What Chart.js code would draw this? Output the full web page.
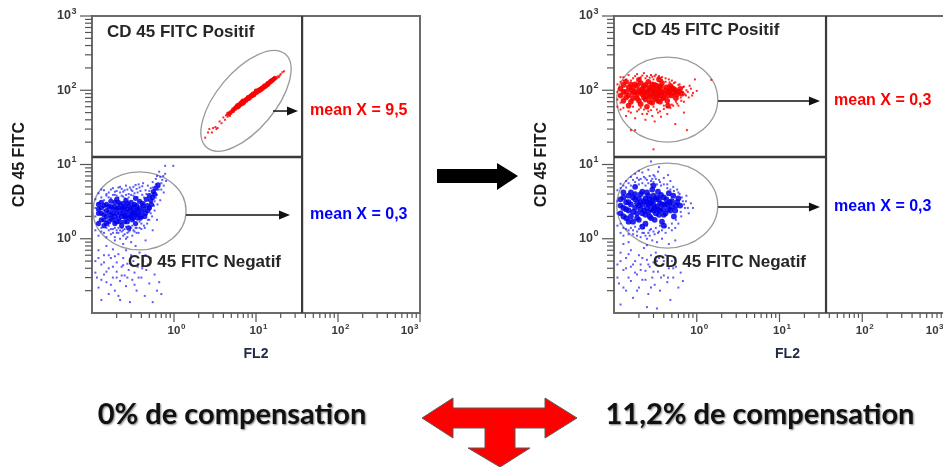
<!DOCTYPE html>
<html><head><meta charset="utf-8">
<script src="https://cdn.jsdelivr.net/npm/chart.js@4.4.1/dist/chart.umd.min.js"></script>
<style>
html,body{margin:0;padding:0;background:#fff;}
#wrap{position:relative;width:943px;height:467px;overflow:hidden;background:#fff;}
.pane{position:absolute;top:0;}
.caption{position:absolute;top:412px;transform:translate(-50%,-50%);font-family:Lato,"Open Sans",sans-serif;font-weight:700;font-size:29px;color:#111;text-shadow:1px 1px 2px rgba(0,0,0,.5);white-space:nowrap;}
svg{position:absolute;left:0;top:0;}
</style></head><body>
<div id="wrap">
<canvas id="c1" class="pane" width="430" height="370" style="left:0px"></canvas>
<canvas id="c2" class="pane" width="430" height="370" style="left:520px"></canvas>
<svg width="943" height="467">
  <polygon points="437,169 497,169 497,163 518,176 497,190 497,183 437,183" fill="#000"/>
  <polygon points="422,418 453,398 453,408 545,408 545,398 577,418 545,438 545,428 515,428 515,448 530,448 500,467 468,448 485,448 485,428 453,428 453,438" fill="#ff0000" stroke="#5a5a5a" stroke-width="1"/>
</svg>
<div class="caption" style="left:232px">0% de compensation</div>
<div class="caption" style="left:760px">11,2% de compensation</div>
</div>
<script>
// ---------------- data ----------------
const decadeTicks = [1, 10, 100, 1000];
const decadeExponents = ['0', '1', '2', '3'];
const minorBases = [0.1, 1, 10, 100];
const minorMultipliers = [2, 3, 4, 5, 6, 7, 8, 9];
const axisMin = 0.1, axisMax = 1000;
const gateFL2 = 36.5;   // vertical quadrant gate (FL2)
const gateFITC = 12.6;  // horizontal quadrant gate (CD 45 FITC)
const quadrantLabels = ['CD 45 FITC Positif', 'CD 45 FITC Negatif'];
const xTitle = 'FL2';
const yTitle = 'CD 45 FITC';
const meanLabelsBefore = ['mean X = 9,5', 'mean X = 0,3'];
const meanLabelsAfter = ['mean X = 0,3', 'mean X = 0,3'];

// 0% compensation: positive population (spill-over diagonal)
const posBeforeCore = [[5.5,56],[5.8,60],[6,59],[6.3,64],[6.6,65],[6.8,70],[7,67],[7.3,72],[7.6,73],[7.9,78],[8.2,77],[8.5,82],[8.8,83],[9.1,88],[9.4,86],[9.8,92],[10.2,93],[10.6,99],[11,98],[11.5,105],[12,105],[12.5,113],[13,112],[13.6,120],[14.2,122],[14.8,130],[15.4,131],[16,138],[5.2,53],[6.1,63],[7.1,71],[8,79],[9,86],[10,95],[11.2,102],[12.6,110],[13.8,118],
  [5.3,55],[5.6,58],[5.9,62],[6.2,61],[6.5,67],[6.7,66],[6.9,72],[7.2,70],[7.5,75],[7.8,76],[8.1,81],[8.4,79],[8.7,85],[9,84],[9.3,90],[9.6,89],[10,98],[10.4,95],[10.8,101],[11.3,103],[11.8,108],[12.3,109],[12.8,116],[13.4,116],[14,125],[14.6,126],[15.2,134],[15.8,135],[16.5,141],[17,146],[4.6,48],[4.9,50]];
const posBeforeScatter = [[2.4,23],[2.6,27],[2.9,27],[3.0,31],[3.2,32],[3.4,31],[3.6,38],[3.8,36],[4.0,43],[4.2,40],[4.3,46],[4.5,44],[4.7,49],[4.9,48],[5.1,54],[5.3,51],[17,141],[17.5,148],[18,145],[18.5,154],[19,150],[19.5,158],[20,165],[21,175],[22,180],[16.5,146],[15,128],[13.3,121],[11.8,99],[10.4,97],[9.6,84],[8.7,79],[7.8,80],[6.9,66],[5.9,57],[4.8,45],[3.3,30],[2.7,30]];
// 0% compensation: negative population
const negBeforeCore = [[0.12,2.2],[0.13,1.8],[0.13,2.6],[0.14,2.1],[0.15,1.6],[0.15,2.9],[0.16,2.3],[0.17,1.9],[0.17,2.7],[0.18,2.2],[0.19,1.6],[0.19,3.1],[0.2,2.5],[0.21,1.9],[0.22,2.2],[0.22,2.9],[0.23,1.5],[0.24,2.6],[0.25,2.0],[0.26,2.3],[0.27,1.7],[0.27,3.0],[0.29,2.1],[0.3,2.6],[0.31,1.8],[0.32,2.3],[0.33,2.9],[0.34,1.6],[0.35,2.1],[0.36,2.5],[0.38,3.2],[0.39,1.9],[0.4,2.3],[0.42,2.8],[0.44,2.0],[0.46,3.4],[0.48,2.4],[0.5,3.8],[0.53,2.9],[0.56,4.3],[0.14,1.5],[0.2,3.4],[0.28,1.4],[0.34,3.5],[0.12,2.9],
  [0.12,1.6],[0.12,2.5],[0.13,2.2],[0.13,3.1],[0.14,1.8],[0.14,2.8],[0.15,2.0],[0.15,2.4],[0.16,1.7],[0.16,2.7],[0.17,2.1],[0.17,3.2],[0.18,1.8],[0.18,2.5],[0.19,2.0],[0.19,2.7],[0.2,1.7],[0.2,2.2],[0.21,2.6],[0.21,3.1],[0.22,1.7],[0.23,2.0],[0.23,2.5],[0.24,2.2],[0.24,3.0],[0.25,1.7],[0.25,2.7],[0.26,2.0],[0.26,3.3],[0.27,2.5],[0.28,1.9],[0.28,2.8],[0.29,2.4],[0.3,2.0],[0.3,3.1],[0.31,2.2],[0.32,1.9],[0.32,2.7],[0.33,2.1],[0.34,2.4],[0.35,2.8],[0.36,1.9],[0.37,2.2],[0.38,2.6],[0.4,2.0],[0.41,3.0],[0.43,2.5],[0.45,2.2],[0.47,2.8],[0.5,2.6],[0.52,3.3],[0.55,3.6],[0.58,4.0],[0.6,4.8],[0.64,5.3]];
const negBeforeScatter = [[0.11,1.3],[0.11,3.4],[0.12,1.1],[0.12,4.1],[0.13,1.4],[0.13,3.6],[0.14,1.2],[0.14,4.5],[0.15,1.05],[0.15,3.8],[0.16,1.3],[0.16,4.2],[0.17,1.15],[0.17,3.5],[0.18,1.35],[0.18,4.8],[0.19,1.05],[0.19,3.9],[0.2,1.2],[0.2,4.4],[0.21,1.4],[0.21,3.6],[0.22,1.0],[0.22,5.0],[0.23,1.25],[0.23,3.8],[0.24,1.1],[0.24,4.3],[0.25,1.35],[0.25,3.5],[0.26,1.0],[0.26,5.2],[0.27,1.2],[0.28,4.0],[0.29,1.3],[0.3,4.6],[0.31,1.1],[0.32,3.8],[0.33,1.25],[0.34,5.3],[0.35,1.4],[0.36,4.2],[0.37,1.2],[0.38,4.9],[0.4,1.35],[0.41,3.9],[0.42,5.6],[0.43,1.5],[0.45,4.5],[0.47,1.6],[0.48,5.2],[0.5,1.8],[0.52,4.8],[0.54,2.0],[0.55,5.8],[0.58,2.4],[0.6,3.6],[0.6,6.4],[0.63,2.9],[0.65,4.6],[0.68,3.3],[0.7,5.6],[0.74,7.0],[0.75,4.2],[0.78,7.5],[0.8,6.0],[0.66,8.0],[0.78,9.6],[0.98,9.6],[0.45,0.95],[0.3,0.9],[0.55,1.3],[0.62,1.8],[0.14,2.4],[0.18,2.8],[0.27,2.2],[0.38,1.7],[0.44,3.1],[0.52,2.6],[0.58,3.2],
  [0.11,2.0],[0.11,2.6],[0.12,3.0],[0.12,1.7],[0.13,4.6],[0.13,1.25],[0.14,3.3],[0.15,4.0],[0.15,1.4],[0.16,3.6],[0.16,1.5],[0.17,4.6],[0.17,1.35],[0.18,3.9],[0.18,1.2],[0.19,4.3],[0.19,1.4],[0.2,3.8],[0.2,1.3],[0.21,4.9],[0.21,1.2],[0.22,4.2],[0.22,1.3],[0.23,4.7],[0.23,1.4],[0.24,3.7],[0.24,1.3],[0.25,4.5],[0.25,1.15],[0.26,3.9],[0.26,1.45],[0.27,4.6],[0.27,1.05],[0.28,3.6],[0.28,1.25],[0.29,4.9],[0.3,1.4],[0.3,3.9],[0.31,4.4],[0.31,1.5],[0.32,5.0],[0.32,1.3],[0.33,4.1],[0.34,1.4],[0.35,4.7],[0.35,1.2],[0.36,3.6],[0.37,5.4],[0.38,1.4],[0.39,4.4],[0.4,1.6],[0.41,5.1],[0.43,3.6],[0.44,1.4],[0.46,4.0],[0.48,1.8],[0.5,4.4],[0.52,2.2],[0.55,4.9],[0.57,2.8],[0.6,5.4],[0.62,3.9],[0.66,5.0],[0.7,4.6],[0.72,6.2],[0.68,6.8],[0.75,5.2],[0.62,7.0]];
const negBeforeTail = [[0.11,0.5],[0.115,0.3],[0.12,0.7],[0.12,0.22],[0.13,0.45],[0.13,0.15],[0.14,0.6],[0.14,0.33],[0.15,0.26],[0.15,0.8],[0.16,0.4],[0.16,0.18],[0.17,0.55],[0.18,0.3],[0.18,0.72],[0.19,0.2],[0.2,0.48],[0.2,0.36],[0.21,0.62],[0.22,0.27],[0.22,0.15],[0.23,0.42],[0.24,0.55],[0.25,0.32],[0.26,0.7],[0.26,0.23],[0.27,0.46],[0.28,0.38],[0.29,0.14],[0.3,0.6],[0.31,0.28],[0.32,0.5],[0.33,0.35],[0.35,0.2],[0.36,0.42],[0.38,0.65],[0.4,0.3],[0.42,0.5],[0.44,0.17],[0.46,0.38],[0.5,0.25],[0.52,0.55],[0.55,0.14],[0.58,0.33],[0.62,0.2],[0.66,0.26],[0.7,0.18],[0.24,0.85],[0.34,0.8],[0.19,0.95],
  [0.11,0.35],[0.12,0.55],[0.13,0.28],[0.14,0.48],[0.15,0.36],[0.16,0.6],[0.17,0.24],[0.18,0.42],[0.19,0.58],[0.2,0.3],[0.21,0.17],[0.23,0.32],[0.24,0.44],[0.27,0.3],[0.29,0.52],[0.33,0.24],[0.37,0.3],[0.41,0.4],[0.45,0.6],[0.48,0.45]];

// 11,2% compensation: positive population
const posAfterCore = [[0.13,95],[0.14,80],[0.15,110],[0.16,70],[0.17,92],[0.18,120],[0.19,78],[0.2,100],[0.21,65],[0.22,88],[0.23,112],[0.24,75],[0.25,95],[0.26,130],[0.27,82],[0.28,105],[0.29,68],[0.3,90],[0.31,118],[0.32,76],[0.33,98],[0.34,85],[0.35,110],[0.36,70],[0.37,92],[0.38,125],[0.4,80],[0.42,100],[0.44,72],[0.46,95],[0.48,115],[0.5,85],[0.53,104],[0.56,78],[0.6,95],[0.25,60],[0.35,140],[0.2,138],[0.45,62],[0.15,62],
  [0.12,85],[0.12,105],[0.13,72],[0.13,118],[0.14,95],[0.14,130],[0.15,85],[0.16,100],[0.16,120],[0.17,78],[0.17,108],[0.18,95],[0.19,88],[0.19,115],[0.2,72],[0.21,95],[0.21,125],[0.22,105],[0.23,80],[0.23,95],[0.24,118],[0.25,85],[0.26,100],[0.27,110],[0.27,70],[0.28,90],[0.29,120],[0.3,80],[0.3,105],[0.31,95],[0.32,88],[0.33,115],[0.34,72],[0.35,98],[0.36,85],[0.37,112],[0.38,95],[0.39,78],[0.41,90],[0.43,110],[0.45,85],[0.47,100],[0.5,108],[0.52,92],[0.55,100],[0.58,88],[0.63,105],[0.66,90]];
const posAfterScatter = [[0.11,120],[0.11,75],[0.12,150],[0.12,55],[0.13,135],[0.14,45],[0.15,160],[0.16,50],[0.17,145],[0.18,42],[0.19,165],[0.2,55],[0.21,150],[0.22,48],[0.23,170],[0.24,40],[0.25,155],[0.26,52],[0.28,160],[0.29,45],[0.3,140],[0.31,38],[0.32,162],[0.34,50],[0.35,155],[0.37,44],[0.38,150],[0.4,56],[0.42,145],[0.44,48],[0.46,140],[0.48,58],[0.5,135],[0.52,62],[0.55,128],[0.58,66],[0.62,120],[0.65,72],[0.68,110],[0.72,88],[0.75,100],[0.8,80],[0.85,105],[0.9,92],[1.0,98],[0.16,29],[0.18,29],[0.76,29],[0.55,35],[0.95,140],[0.7,50],[0.3,16],[1.5,138],
  [0.11,95],[0.11,60],[0.12,130],[0.12,68],[0.13,150],[0.13,58],[0.14,140],[0.15,52],[0.16,135],[0.17,60],[0.18,155],[0.19,52],[0.2,142],[0.21,58],[0.22,158],[0.23,55],[0.24,145],[0.25,48],[0.27,148],[0.28,54],[0.29,152],[0.3,60],[0.31,155],[0.33,55],[0.34,148],[0.36,52],[0.38,138],[0.4,62],[0.42,130],[0.44,60],[0.47,128],[0.5,64],[0.53,125],[0.56,70],[0.6,118],[0.64,80],[0.67,95],[0.7,112],[0.74,85],[0.78,95],[0.82,115],[0.88,85],[0.7,70],[0.6,62]];
// 11,2% compensation: negative population
const negAfterCore = [[0.12,2.8],[0.13,2.0],[0.13,3.6],[0.14,2.5],[0.15,3.1],[0.15,1.7],[0.16,4.2],[0.17,2.3],[0.18,3.4],[0.19,1.9],[0.2,2.8],[0.21,4.0],[0.22,2.2],[0.23,3.2],[0.24,1.6],[0.25,2.6],[0.26,3.8],[0.27,2.0],[0.28,3.0],[0.29,4.6],[0.3,2.4],[0.31,1.8],[0.32,3.4],[0.33,2.7],[0.34,4.3],[0.35,2.1],[0.36,3.0],[0.38,1.7],[0.39,2.5],[0.4,3.6],[0.42,2.2],[0.44,2.9],[0.46,4.1],[0.48,2.4],[0.5,3.2],[0.53,2.0],[0.56,2.8],[0.6,3.5],[0.18,5.0],[0.3,5.2],[0.22,1.45],[0.4,1.5],
  [0.12,2.2],[0.12,3.4],[0.13,2.6],[0.13,4.2],[0.14,1.9],[0.14,3.1],[0.15,2.4],[0.15,3.8],[0.16,2.0],[0.16,2.9],[0.17,3.6],[0.17,1.7],[0.18,2.6],[0.18,4.0],[0.19,3.0],[0.19,2.2],[0.2,3.5],[0.2,1.8],[0.21,2.5],[0.21,3.1],[0.22,2.9],[0.22,4.3],[0.23,2.4],[0.24,3.5],[0.24,2.1],[0.25,3.1],[0.25,4.2],[0.26,2.3],[0.26,2.9],[0.27,3.4],[0.28,2.5],[0.28,1.9],[0.29,3.3],[0.3,2.9],[0.3,3.8],[0.31,2.6],[0.32,2.2],[0.33,3.6],[0.34,2.5],[0.35,3.4],[0.36,2.4],[0.37,3.9],[0.38,2.9],[0.4,2.1],[0.41,2.9],[0.43,3.4],[0.45,2.5],[0.47,3.1],[0.5,2.7],[0.52,3.8],[0.55,2.4],[0.58,3.1],[0.63,2.8]];
const negAfterScatter = [[0.11,1.5],[0.11,4.5],[0.12,1.2],[0.12,5.5],[0.13,1.1],[0.14,6.0],[0.15,1.3],[0.16,6.8],[0.17,1.15],[0.18,7.5],[0.19,1.25],[0.2,6.2],[0.21,1.05],[0.22,7.8],[0.23,1.2],[0.24,6.5],[0.25,1.0],[0.26,8.5],[0.27,1.3],[0.28,6.0],[0.29,0.95],[0.3,7.2],[0.31,1.15],[0.32,6.4],[0.33,0.9],[0.34,8.0],[0.35,1.25],[0.36,5.8],[0.38,1.0],[0.4,6.6],[0.42,1.2],[0.44,5.4],[0.46,0.85],[0.48,6.0],[0.5,1.3],[0.52,5.0],[0.55,1.4],[0.58,4.6],[0.6,1.6],[0.62,4.0],[0.65,2.0],[0.68,3.2],[0.72,2.6],[0.75,3.8],[0.8,2.2],[0.85,3.0],[0.9,2.6],[0.35,9.2],[0.28,11],[0.15,0.9],[0.25,0.82],[0.55,0.95],
  [0.11,2.2],[0.11,3.2],[0.12,4.8],[0.12,1.6],[0.13,5.2],[0.13,1.4],[0.14,4.9],[0.14,1.35],[0.15,5.6],[0.15,1.15],[0.16,5.2],[0.16,1.4],[0.17,6.2],[0.17,1.3],[0.18,5.8],[0.18,1.45],[0.19,6.6],[0.19,1.1],[0.2,5.4],[0.2,1.35],[0.21,6.4],[0.21,1.5],[0.22,5.6],[0.22,1.2],[0.23,6.8],[0.23,1.4],[0.24,5.2],[0.24,1.1],[0.25,6.2],[0.25,1.5],[0.26,5.6],[0.26,1.2],[0.27,7.0],[0.27,1.1],[0.28,5.4],[0.28,1.35],[0.29,6.4],[0.3,1.25],[0.3,5.8],[0.31,6.9],[0.32,1.4],[0.33,5.4],[0.34,1.2],[0.35,6.2],[0.36,1.5],[0.37,5.2],[0.38,1.3],[0.4,5.4],[0.42,1.45],[0.44,4.8],[0.46,1.4],[0.48,4.6],[0.5,1.6],[0.53,4.4],[0.56,1.8],[0.6,4.2],[0.64,2.3],[0.66,3.6],[0.7,2.9],[0.74,3.2],[0.78,2.6],[0.45,7.2],[0.2,8.2]];
const negAfterTail = [[0.11,0.45],[0.115,0.25],[0.12,0.65],[0.12,0.13],[0.13,0.38],[0.14,0.55],[0.14,0.2],[0.15,0.3],[0.16,0.7],[0.16,0.42],[0.17,0.16],[0.18,0.5],[0.19,0.33],[0.2,0.6],[0.2,0.22],[0.21,0.45],[0.22,0.28],[0.23,0.75],[0.24,0.37],[0.25,0.52],[0.26,0.18],[0.27,0.42],[0.28,0.6],[0.29,0.3],[0.3,0.48],[0.31,0.24],[0.32,0.65],[0.34,0.36],[0.35,0.55],[0.36,0.2],[0.38,0.44],[0.4,0.32],[0.42,0.6],[0.44,0.26],[0.46,0.4],[0.48,0.15],[0.5,0.5],[0.52,0.3],[0.56,0.42],[0.6,0.22],[0.64,0.35],[0.68,0.27],[0.25,0.12],[0.33,0.115],[0.13,0.85],
  [0.11,0.3],[0.12,0.5],[0.13,0.22],[0.14,0.4],[0.15,0.62],[0.16,0.27],[0.17,0.45],[0.18,0.35],[0.19,0.2],[0.21,0.38],[0.22,0.55],[0.24,0.28],[0.26,0.45],[0.28,0.22],[0.3,0.36],[0.33,0.5],[0.37,0.3],[0.4,0.5],[0.45,0.3],[0.52,0.4]];

// ---------------- layout / style (not data) ----------------
const RED = 'rgba(255,0,0,0.85)', RED_CORE = 'rgba(250,0,0,0.9)';
const BLUE = 'rgba(20,20,255,0.7)', BLUE_CORE = 'rgba(0,0,235,0.85)';
const FONT = '"Liberation Sans", Arial, Helvetica, sans-serif';

const annBefore = {
  ellipses: [{x: 7.55, y: 72, rx: 61, ry: 29, rot: -50}, {x: 0.38, y: 2.37, rx: 46.5, ry: 39, rot: 0}],
  arrows: [{x0: 16.1, x1: 32.5, y: 52.5}, {x0: 1.4, x1: 26, y: 2.09}],
  means: meanLabelsBefore, meanColors: ['#ff0000', '#0000ff'],
  posLabel: {dx: 15, dy: 16}, negLabel: {dx: 36, dy: 246}, titleDx: 0
};
const annAfter = {
  ellipses: [{x: 0.44, y: 75, rx: 50.5, ry: 42.5, rot: 0}, {x: 0.44, y: 2.8, rx: 50.5, ry: 42.5, rot: 0}],
  arrows: [{x0: 1.81, x1: 30.8, y: 71.6}, {x0: 1.81, x1: 30.8, y: 2.68}],
  means: meanLabelsAfter, meanColors: ['#ff0000', '#0000ff'],
  posLabel: {dx: 18, dy: 14}, negLabel: {dx: 39, dy: 246}, titleDx: 8
};

function toPts(arr) { return arr.map(([x, y]) => ({x, y})); }
function ds(arr, color, radius, style) {
  return {data: toPts(arr), backgroundColor: color, borderWidth: 0, pointRadius: radius, pointStyle: style, pointHoverRadius: radius};
}

function line(ctx, x0, y0, x1, y1) { ctx.beginPath(); ctx.moveTo(x0, y0); ctx.lineTo(x1, y1); ctx.stroke(); }

function powLabel(ctx, x, y, exp, mode, size) {
  const base = 'bold ' + size + 'px ' + FONT, sup = 'bold ' + Math.round(size * 0.72) + 'px ' + FONT;
  ctx.font = base; const bw = ctx.measureText('10').width;
  ctx.font = sup; const ew = ctx.measureText(exp).width;
  let bx;
  if (mode === 'right') bx = x - bw - ew - 1;
  else if (mode === 'end') bx = x - bw - ew - 2;
  else bx = x - bw / 2;
  ctx.textAlign = 'left'; ctx.textBaseline = 'middle'; ctx.fillStyle = '#3a3a3a';
  ctx.font = base; ctx.fillText('10', bx, y);
  ctx.font = sup; ctx.fillText(exp, bx + bw + 0.5, y - size * 0.38);
}

function overlay(ann) {
  return {
    id: 'facsOverlay',
    beforeDatasetsDraw(chart) {
      const {ctx, scales: {x: xs, y: ys}} = chart;
      ctx.save();
      ctx.strokeStyle = '#9a9a9a'; ctx.lineWidth = 1.3;
      ann.ellipses.forEach(e => {
        ctx.beginPath();
        ctx.ellipse(xs.getPixelForValue(e.x), ys.getPixelForValue(e.y), e.rx, e.ry, e.rot * Math.PI / 180, 0, Math.PI * 2);
        ctx.stroke();
      });
      ctx.restore();
    },
    afterDatasetsDraw(chart) {
      const {ctx, chartArea: a, scales: {x: xs, y: ys}} = chart;
      ctx.save();
      ctx.strokeStyle = '#6b6b6b'; ctx.lineWidth = 2;
      ctx.strokeRect(a.left, a.top, a.right - a.left, a.bottom - a.top);
      const gx = xs.getPixelForValue(gateFL2), gy = ys.getPixelForValue(gateFITC);
      ctx.strokeStyle = '#3a3a3a'; ctx.lineWidth = 2.2;
      line(ctx, gx, a.top, gx, a.bottom);
      ctx.lineWidth = 2.6;
      line(ctx, a.left, gy, gx, gy);
      ctx.strokeStyle = '#111'; ctx.fillStyle = '#111'; ctx.lineWidth = 1.5;
      ann.arrows.forEach(r => {
        const x0 = xs.getPixelForValue(r.x0), x1 = xs.getPixelForValue(r.x1), y = ys.getPixelForValue(r.y);
        line(ctx, x0, y, x1 - 8, y);
        ctx.beginPath(); ctx.moveTo(x1, y); ctx.lineTo(x1 - 11, y - 4.5); ctx.lineTo(x1 - 11, y + 4.5); ctx.closePath(); ctx.fill();
      });
      ctx.font = 'bold 16px ' + FONT; ctx.textAlign = 'left'; ctx.textBaseline = 'middle';
      ann.arrows.forEach((r, i) => {
        ctx.fillStyle = ann.meanColors[i];
        ctx.fillText(ann.means[i], gx + 8, ys.getPixelForValue(r.y));
      });
      ctx.font = 'bold 17px ' + FONT; ctx.fillStyle = '#262626';
      ctx.fillText(quadrantLabels[0], a.left + ann.posLabel.dx, a.top + ann.posLabel.dy);
      ctx.fillText(quadrantLabels[1], a.left + ann.negLabel.dx, a.top + ann.negLabel.dy);
      ctx.strokeStyle = '#555'; ctx.lineWidth = 1.2;
      minorBases.forEach(b => minorMultipliers.forEach(m => {
        const v = b * m;
        const py = ys.getPixelForValue(v); line(ctx, a.left - 7, py, a.left, py);
        const px = xs.getPixelForValue(v); line(ctx, px, a.bottom, px, a.bottom + 5);
      }));
      decadeTicks.forEach((v, i) => {
        const py = ys.getPixelForValue(v); line(ctx, a.left - 12, py, a.left, py);
        const px = xs.getPixelForValue(v); line(ctx, px, a.bottom, px, a.bottom + 9);
        powLabel(ctx, a.left - 15, py, decadeExponents[i], 'right', 12.5);
        powLabel(ctx, px, a.bottom + 18, decadeExponents[i], i === decadeTicks.length - 1 ? 'end' : 'center', 11.5);
      });
      ctx.fillStyle = '#1f2a44'; ctx.font = 'bold 14px ' + FONT; ctx.textAlign = 'center';
      ctx.fillText(xTitle, xs.getPixelForValue(10) + ann.titleDx, a.bottom + 41);
      ctx.fillStyle = '#1a1a1a'; ctx.font = 'bold 16px ' + FONT;
      ctx.translate(a.left - 72, (a.top + a.bottom) / 2); ctx.rotate(-Math.PI / 2);
      ctx.fillText(yTitle, 0, 0);
      ctx.restore();
    }
  };
}

function makeChart(id, datasets, padding, ann) {
  return new Chart(document.getElementById(id), {
    type: 'scatter',
    data: {datasets},
    options: {
      responsive: false, animation: false, devicePixelRatio: 1, events: [],
      layout: {padding},
      plugins: {legend: {display: false}, tooltip: {enabled: false}},
      scales: {
        x: {type: 'logarithmic', min: axisMin, max: axisMax, display: false},
        y: {type: 'logarithmic', min: axisMin, max: axisMax, display: false}
      }
    },
    plugins: [overlay(ann)]
  });
}

makeChart('c1', [
  ds(posBeforeCore, RED_CORE, 2.3, 'circle'),
  ds(posBeforeScatter, RED, 1.4, 'rect'),
  ds(negBeforeCore, BLUE_CORE, 2.6, 'circle'),
  ds(negBeforeScatter, BLUE, 1.4, 'rect'),
  ds(negBeforeTail, BLUE, 1.4, 'rect')
], {left: 92, top: 16, right: 10, bottom: 57}, annBefore);

makeChart('c2', [
  ds(posAfterCore, RED_CORE, 2.8, 'circle'),
  ds(posAfterScatter, RED, 1.4, 'rect'),
  ds(negAfterCore, BLUE_CORE, 2.9, 'circle'),
  ds(negAfterScatter, BLUE, 1.4, 'rect'),
  ds(negAfterTail, BLUE, 1.4, 'rect')
], {left: 94, top: 16, right: 5, bottom: 57}, annAfter);
</script>
</body></html>
